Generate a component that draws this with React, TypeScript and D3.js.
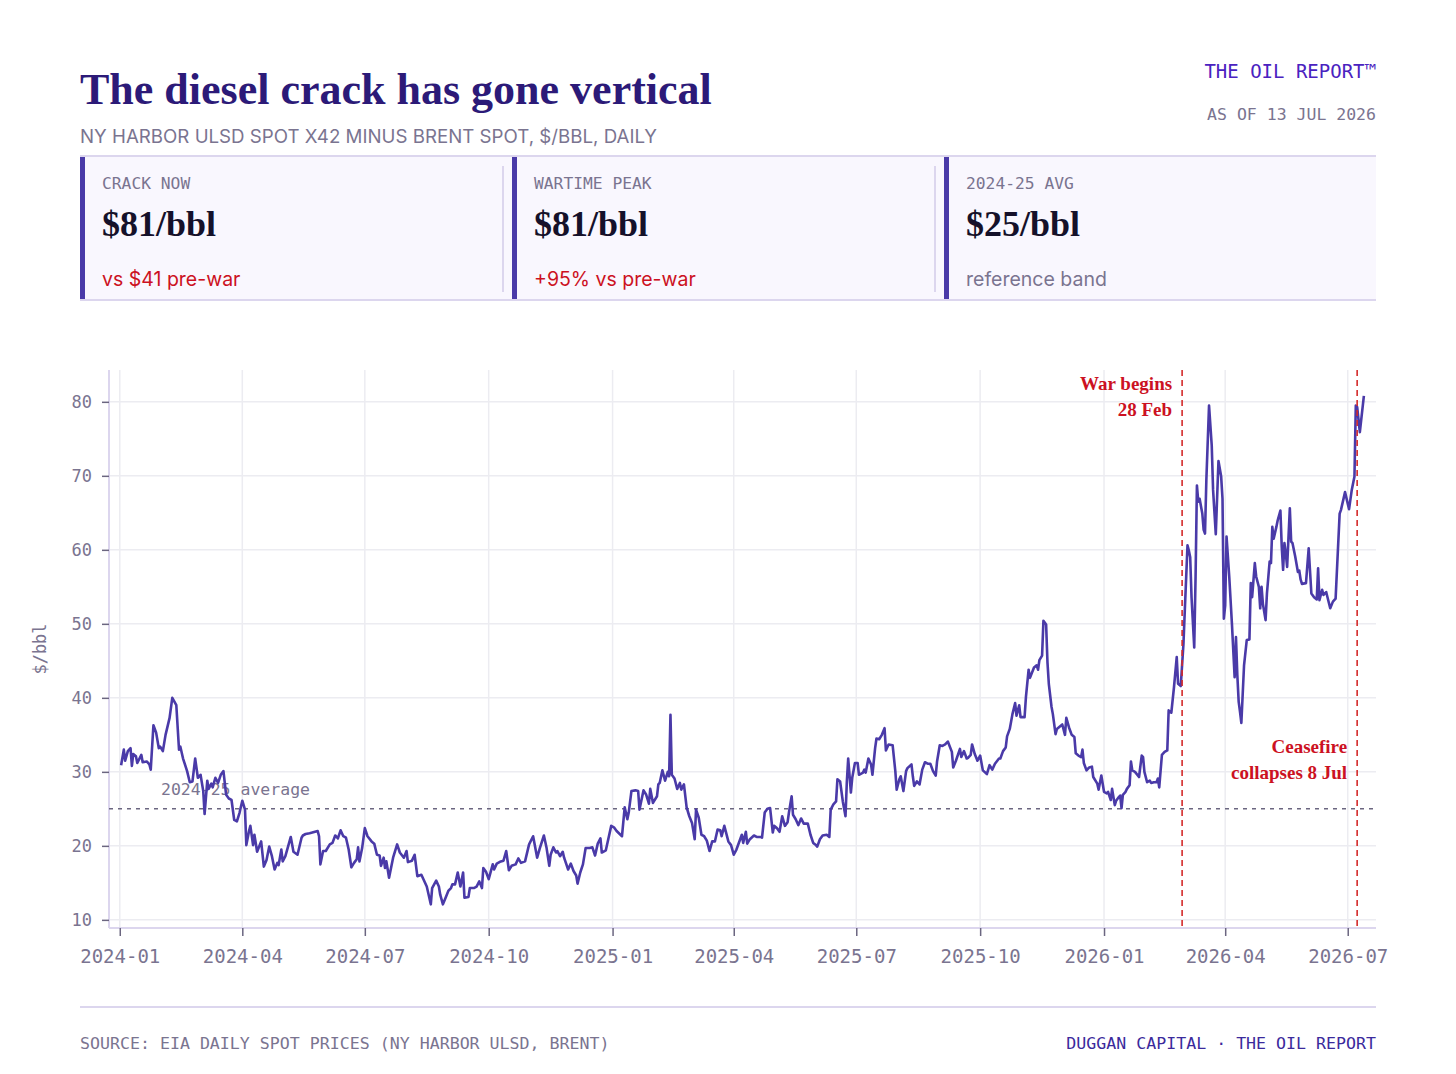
import React, { useEffect, useRef } from 'react';
import * as d3 from 'd3';

// NY Harbor ULSD x42 minus Brent, $/bbl
const crackSeries: [string, number][] = [
  ['2024-01-02', 30.9], ['2024-01-04', 33.0], ['2024-01-05', 31.5], ['2024-01-07', 32.8], ['2024-01-09', 33.2],
  ['2024-01-10', 30.8], ['2024-01-11', 32.4], ['2024-01-13', 32.1], ['2024-01-14', 31.2], ['2024-01-17', 32.3],
  ['2024-01-18', 31.3], ['2024-01-21', 31.4], ['2024-01-23', 31.0], ['2024-01-24', 30.3], ['2024-01-26', 36.3],
  ['2024-01-28', 35.3], ['2024-01-30', 33.2], ['2024-01-31', 33.4],
  ['2024-02-02', 32.8], ['2024-02-04', 35.0], ['2024-02-07', 37.3], ['2024-02-09', 40.0], ['2024-02-12', 39.0],
  ['2024-02-14', 33.0], ['2024-02-15', 33.4], ['2024-02-17', 31.8], ['2024-02-20', 30.1], ['2024-02-22', 28.6],
  ['2024-02-24', 28.7], ['2024-02-26', 31.8], ['2024-02-28', 29.2],
  ['2024-03-01', 29.6], ['2024-03-03', 27.4], ['2024-03-04', 24.3], ['2024-03-06', 28.8], ['2024-03-07', 27.7],
  ['2024-03-09', 28.4], ['2024-03-10', 27.9], ['2024-03-12', 29.2], ['2024-03-14', 28.5], ['2024-03-16', 29.6],
  ['2024-03-18', 30.1], ['2024-03-20', 26.9], ['2024-03-22', 26.4], ['2024-03-24', 26.2], ['2024-03-26', 23.5],
  ['2024-03-28', 23.3], ['2024-03-30', 24.5],
  ['2024-04-01', 26.1], ['2024-04-03', 24.9], ['2024-04-04', 20.1], ['2024-04-06', 22.0], ['2024-04-07', 22.7],
  ['2024-04-09', 20.1], ['2024-04-10', 21.5], ['2024-04-12', 19.2], ['2024-04-15', 20.6], ['2024-04-17', 17.2],
  ['2024-04-19', 18.1], ['2024-04-21', 19.9], ['2024-04-23', 18.6], ['2024-04-25', 16.8], ['2024-04-27', 17.7],
  ['2024-04-28', 17.4], ['2024-04-30', 19.5],
  ['2024-05-01', 17.9], ['2024-05-03', 18.6], ['2024-05-07', 21.2], ['2024-05-09', 19.2], ['2024-05-12', 18.8],
  ['2024-05-15', 21.1], ['2024-05-16', 21.4], ['2024-05-18', 21.6], ['2024-05-21', 21.7], ['2024-05-27', 22.0],
  ['2024-05-28', 21.3], ['2024-05-29', 17.5], ['2024-05-31', 19.3],
  ['2024-06-02', 19.3], ['2024-06-05', 20.2], ['2024-06-07', 20.4], ['2024-06-09', 21.4], ['2024-06-11', 21.0],
  ['2024-06-13', 22.1], ['2024-06-15', 21.3], ['2024-06-17', 21.1], ['2024-06-19', 19.5], ['2024-06-21', 17.1],
  ['2024-06-23', 17.7], ['2024-06-25', 18.2], ['2024-06-26', 19.8], ['2024-06-27', 17.9], ['2024-06-29', 19.7],
  ['2024-07-01', 22.4], ['2024-07-03', 21.3], ['2024-07-06', 20.6], ['2024-07-08', 20.3], ['2024-07-10', 18.8],
  ['2024-07-12', 18.7], ['2024-07-13', 17.3], ['2024-07-15', 18.4], ['2024-07-16', 17.0], ['2024-07-17', 17.9],
  ['2024-07-19', 15.7], ['2024-07-22', 18.4], ['2024-07-25', 20.2], ['2024-07-27', 19.1], ['2024-07-30', 18.4],
  ['2024-08-01', 19.3], ['2024-08-02', 17.8], ['2024-08-05', 18.0], ['2024-08-07', 18.8], ['2024-08-09', 15.9],
  ['2024-08-12', 16.1], ['2024-08-16', 14.5], ['2024-08-19', 12.1], ['2024-08-20', 14.3], ['2024-08-23', 15.3],
  ['2024-08-25', 14.5], ['2024-08-26', 13.4], ['2024-08-28', 12.1], ['2024-08-30', 13.0],
  ['2024-09-01', 13.9], ['2024-09-03', 14.3], ['2024-09-04', 14.8], ['2024-09-06', 14.8], ['2024-09-08', 16.4],
  ['2024-09-10', 14.5], ['2024-09-12', 16.4], ['2024-09-13', 13.0], ['2024-09-16', 13.1], ['2024-09-17', 14.3],
  ['2024-09-20', 14.3], ['2024-09-22', 14.5], ['2024-09-24', 15.2], ['2024-09-26', 14.3], ['2024-09-27', 17.0],
  ['2024-09-29', 16.5],
  ['2024-10-01', 15.5], ['2024-10-04', 17.5], ['2024-10-05', 16.8], ['2024-10-07', 17.6], ['2024-10-10', 17.9],
  ['2024-10-12', 18.0], ['2024-10-14', 19.3], ['2024-10-16', 16.7], ['2024-10-18', 17.3], ['2024-10-21', 17.5],
  ['2024-10-23', 18.3], ['2024-10-25', 17.7], ['2024-10-28', 17.9], ['2024-10-31', 20.2],
  ['2024-11-03', 21.3], ['2024-11-06', 18.4], ['2024-11-08', 19.7], ['2024-11-11', 21.4], ['2024-11-13', 19.7],
  ['2024-11-15', 17.3], ['2024-11-16', 18.8], ['2024-11-18', 19.8], ['2024-11-20', 19.1], ['2024-11-21', 19.3],
  ['2024-11-23', 18.6], ['2024-11-25', 19.2], ['2024-11-26', 18.4], ['2024-11-29', 16.8],
  ['2024-12-01', 17.6], ['2024-12-03', 16.6], ['2024-12-05', 16.0], ['2024-12-06', 14.9], ['2024-12-08', 16.4],
  ['2024-12-10', 17.5], ['2024-12-12', 19.7], ['2024-12-15', 19.7], ['2024-12-17', 19.8], ['2024-12-19', 18.7],
  ['2024-12-21', 20.3], ['2024-12-23', 21.0], ['2024-12-24', 19.1], ['2024-12-27', 19.4], ['2024-12-31', 22.7],
  ['2025-01-02', 22.5], ['2025-01-04', 22.0], ['2025-01-08', 21.3], ['2025-01-10', 25.2], ['2025-01-12', 23.6],
  ['2025-01-13', 24.5], ['2025-01-15', 27.4], ['2025-01-18', 27.5], ['2025-01-20', 27.4], ['2025-01-21', 24.9],
  ['2025-01-24', 27.5], ['2025-01-26', 26.9], ['2025-01-28', 25.7], ['2025-01-29', 27.7], ['2025-01-31', 25.8],
  ['2025-02-03', 26.7], ['2025-02-04', 28.3], ['2025-02-05', 28.5], ['2025-02-07', 30.2], ['2025-02-09', 28.8],
  ['2025-02-11', 30.0], ['2025-02-12', 29.4], ['2025-02-13', 37.7], ['2025-02-14', 29.6], ['2025-02-16', 29.1],
  ['2025-02-18', 27.7], ['2025-02-20', 28.5], ['2025-02-21', 27.6], ['2025-02-23', 28.3], ['2025-02-25', 25.2],
  ['2025-02-27', 24.0],
  ['2025-03-01', 23.1], ['2025-03-03', 20.9], ['2025-03-04', 24.9], ['2025-03-06', 23.8], ['2025-03-08', 21.5],
  ['2025-03-10', 21.3], ['2025-03-12', 20.7], ['2025-03-14', 19.3], ['2025-03-16', 20.6], ['2025-03-18', 20.6],
  ['2025-03-20', 22.2], ['2025-03-22', 22.1], ['2025-03-23', 21.3], ['2025-03-25', 22.7], ['2025-03-28', 20.6],
  ['2025-03-30', 20.1],
  ['2025-04-01', 18.8], ['2025-04-03', 19.5], ['2025-04-07', 21.5], ['2025-04-08', 20.4], ['2025-04-10', 21.9],
  ['2025-04-11', 20.3], ['2025-04-13', 20.9], ['2025-04-16', 21.4], ['2025-04-18', 21.2], ['2025-04-21', 21.2],
  ['2025-04-22', 21.1], ['2025-04-24', 24.5], ['2025-04-26', 25.0], ['2025-04-28', 25.1], ['2025-04-30', 21.8],
  ['2025-05-01', 22.7], ['2025-05-03', 22.4], ['2025-05-05', 21.9], ['2025-05-07', 24.0], ['2025-05-09', 22.7],
  ['2025-05-11', 23.2], ['2025-05-12', 24.5], ['2025-05-14', 26.7], ['2025-05-15', 24.2], ['2025-05-17', 23.6],
  ['2025-05-19', 22.8], ['2025-05-21', 23.7], ['2025-05-23', 23.0], ['2025-05-26', 23.0], ['2025-05-28', 21.5],
  ['2025-05-30', 20.4],
  ['2025-06-01', 20.1], ['2025-06-02', 19.9], ['2025-06-04', 20.9], ['2025-06-06', 21.4], ['2025-06-09', 21.5],
  ['2025-06-11', 21.2], ['2025-06-12', 24.9], ['2025-06-14', 25.6], ['2025-06-16', 26.0], ['2025-06-17', 29.0],
  ['2025-06-19', 28.7], ['2025-06-21', 26.0], ['2025-06-23', 24.0], ['2025-06-24', 28.7], ['2025-06-25', 31.8],
  ['2025-06-27', 27.2], ['2025-06-28', 29.2], ['2025-06-30', 31.2],
  ['2025-07-02', 31.2], ['2025-07-03', 29.6], ['2025-07-06', 29.9], ['2025-07-07', 30.3], ['2025-07-08', 29.9],
  ['2025-07-10', 31.8], ['2025-07-12', 31.0], ['2025-07-13', 29.6], ['2025-07-15', 33.2], ['2025-07-16', 34.5],
  ['2025-07-18', 34.4], ['2025-07-20', 35.0], ['2025-07-22', 35.9], ['2025-07-23', 32.9], ['2025-07-25', 33.7],
  ['2025-07-28', 33.6], ['2025-07-30', 30.1], ['2025-07-31', 27.6],
  ['2025-08-02', 29.0], ['2025-08-03', 29.4], ['2025-08-05', 27.4], ['2025-08-07', 30.1], ['2025-08-08', 30.5],
  ['2025-08-11', 31.0], ['2025-08-12', 29.4], ['2025-08-13', 28.1], ['2025-08-15', 28.7], ['2025-08-17', 28.3],
  ['2025-08-19', 30.3], ['2025-08-21', 31.3], ['2025-08-23', 31.1], ['2025-08-25', 31.1], ['2025-08-27', 30.1],
  ['2025-08-29', 29.5], ['2025-08-30', 31.4],
  ['2025-09-01', 33.6], ['2025-09-03', 33.5], ['2025-09-05', 33.7], ['2025-09-07', 34.1], ['2025-09-10', 32.7],
  ['2025-09-11', 30.6], ['2025-09-13', 31.5], ['2025-09-16', 33.1], ['2025-09-17', 32.0], ['2025-09-19', 32.8],
  ['2025-09-21', 31.8], ['2025-09-22', 31.9], ['2025-09-24', 32.3], ['2025-09-25', 33.7], ['2025-09-27', 32.4],
  ['2025-09-29', 31.5],
  ['2025-10-01', 32.2], ['2025-10-03', 30.2], ['2025-10-06', 29.7], ['2025-10-08', 30.9], ['2025-10-10', 30.3],
  ['2025-10-12', 31.1], ['2025-10-15', 31.8], ['2025-10-16', 31.8], ['2025-10-18', 32.8], ['2025-10-20', 33.3],
  ['2025-10-21', 34.8], ['2025-10-23', 35.8], ['2025-10-25', 37.8], ['2025-10-27', 39.3], ['2025-10-28', 37.6],
  ['2025-10-30', 39.0], ['2025-10-31', 37.4],
  ['2025-11-03', 37.4], ['2025-11-04', 40.1], ['2025-11-06', 43.8], ['2025-11-07', 42.7], ['2025-11-10', 44.1],
  ['2025-11-12', 44.4], ['2025-11-13', 43.8], ['2025-11-14', 45.1], ['2025-11-16', 45.7], ['2025-11-17', 50.4],
  ['2025-11-19', 49.9], ['2025-11-20', 44.8], ['2025-11-21', 41.9], ['2025-11-23', 38.8], ['2025-11-24', 37.8],
  ['2025-11-26', 35.1], ['2025-11-27', 35.8], ['2025-11-29', 36.1],
  ['2025-12-01', 36.4], ['2025-12-03', 35.0], ['2025-12-04', 37.3], ['2025-12-06', 36.0], ['2025-12-08', 35.0],
  ['2025-12-10', 34.7], ['2025-12-11', 32.5], ['2025-12-13', 32.2], ['2025-12-15', 32.0], ['2025-12-16', 33.0],
  ['2025-12-17', 31.2], ['2025-12-19', 30.2], ['2025-12-21', 30.6], ['2025-12-23', 30.7], ['2025-12-24', 29.3],
  ['2025-12-27', 28.4], ['2025-12-28', 27.6], ['2025-12-30', 29.5],
  ['2026-01-01', 27.3], ['2026-01-03', 27.1], ['2026-01-04', 27.3], ['2026-01-06', 26.2], ['2026-01-07', 27.7],
  ['2026-01-09', 25.5], ['2026-01-10', 26.1], ['2026-01-12', 26.6], ['2026-01-13', 26.8], ['2026-01-14', 25.1],
  ['2026-01-15', 26.9], ['2026-01-17', 27.3], ['2026-01-18', 27.7], ['2026-01-20', 28.2], ['2026-01-21', 31.4],
  ['2026-01-22', 30.2], ['2026-01-24', 30.0], ['2026-01-27', 29.3], ['2026-01-29', 32.2], ['2026-01-30', 32.0],
  ['2026-01-31', 30.0],
  ['2026-02-02', 28.6], ['2026-02-04', 28.8], ['2026-02-05', 28.5], ['2026-02-07', 28.6], ['2026-02-09', 28.6],
  ['2026-02-10', 29.1], ['2026-02-11', 27.9], ['2026-02-13', 32.3], ['2026-02-15', 32.7], ['2026-02-17', 32.9],
  ['2026-02-18', 38.3], ['2026-02-20', 38.0], ['2026-02-22', 41.5], ['2026-02-24', 45.5], ['2026-02-25', 41.9],
  ['2026-02-27', 41.6],
  ['2026-03-01', 47.3], ['2026-03-02', 51.8], ['2026-03-04', 60.6], ['2026-03-05', 59.9], ['2026-03-06', 59.0],
  ['2026-03-07', 53.6], ['2026-03-09', 46.8], ['2026-03-10', 56.4], ['2026-03-11', 68.7], ['2026-03-12', 66.5],
  ['2026-03-13', 66.9], ['2026-03-15', 64.9], ['2026-03-16', 62.7], ['2026-03-17', 62.2], ['2026-03-18', 69.4],
  ['2026-03-20', 79.5], ['2026-03-22', 74.1], ['2026-03-23', 68.1], ['2026-03-25', 62.1], ['2026-03-27', 72.0],
  ['2026-03-29', 69.9], ['2026-03-30', 66.9], ['2026-03-31', 50.7],
  ['2026-04-01', 52.5], ['2026-04-02', 61.8], ['2026-04-04', 56.4], ['2026-04-06', 50.0], ['2026-04-08', 42.8],
  ['2026-04-09', 48.2], ['2026-04-10', 43.1], ['2026-04-11', 39.5], ['2026-04-12', 38.1], ['2026-04-13', 36.6],
  ['2026-04-15', 44.4], ['2026-04-17', 47.8], ['2026-04-19', 47.9], ['2026-04-20', 55.5], ['2026-04-21', 53.6],
  ['2026-04-23', 58.2], ['2026-04-24', 56.4], ['2026-04-26', 55.0], ['2026-04-27', 52.1], ['2026-04-28', 55.0],
  ['2026-04-29', 52.7],
  ['2026-05-01', 50.5], ['2026-05-02', 54.1], ['2026-05-04', 58.4], ['2026-05-05', 58.2], ['2026-05-06', 63.1],
  ['2026-05-07', 61.5], ['2026-05-09', 63.1], ['2026-05-10', 64.0], ['2026-05-12', 65.3], ['2026-05-13', 60.4],
  ['2026-05-14', 57.3], ['2026-05-15', 60.9], ['2026-05-16', 59.5], ['2026-05-17', 57.7], ['2026-05-19', 65.6],
  ['2026-05-20', 61.1], ['2026-05-21', 60.9], ['2026-05-23', 59.1], ['2026-05-25', 57.0], ['2026-05-26', 57.2],
  ['2026-05-27', 56.0], ['2026-05-28', 55.4], ['2026-05-31', 55.5],
  ['2026-06-02', 60.2], ['2026-06-04', 54.1], ['2026-06-06', 53.6], ['2026-06-08', 53.3], ['2026-06-09', 57.5],
  ['2026-06-10', 53.2], ['2026-06-12', 54.6], ['2026-06-13', 53.9], ['2026-06-15', 54.3], ['2026-06-18', 52.1],
  ['2026-06-20', 53.0], ['2026-06-22', 53.4], ['2026-06-25', 64.9], ['2026-06-26', 65.4], ['2026-06-29', 67.8],
  ['2026-07-02', 65.5], ['2026-07-04', 68.1], ['2026-07-06', 69.9], ['2026-07-07', 79.5], ['2026-07-08', 79.3],
  ['2026-07-10', 75.9], ['2026-07-13', 80.8],
];

const referenceAvg = 25;
const yTicks = [10, 20, 30, 40, 50, 60, 70, 80];
const xTicks = [
  '2024-01-01', '2024-04-01', '2024-07-01', '2024-10-01', '2025-01-01', '2025-04-01',
  '2025-07-01', '2025-10-01', '2026-01-01', '2026-04-01', '2026-07-01',
];
const xDomain = ['2023-12-24', '2026-07-22'];
const yDomain = [8.9, 84.3];

const kpiLabels = ['CRACK NOW', 'WARTIME PEAK', '2024-25 AVG'];
const kpiValues = ['$81/bbl', '$81/bbl', '$25/bbl'];
const kpiNotes = ['vs $41 pre-war', '+95% vs pre-war', 'reference band'];
const kpiNoteIsAlert = [true, true, false];

const eventDates = ['2026-02-28', '2026-07-08'];
const eventLabels = [['War begins', '28 Feb'], ['Ceasefire', 'collapses 8 Jul']];

const MONO = '"DejaVu Sans Mono", monospace';
const SERIF = '"Liberation Serif", "DejaVu Serif", serif';
const SANS = 'Inter, "Noto Sans", sans-serif';

const INK = '#2c1a78';
const LINE = '#4a3aa8';
const MUTED = '#7a7490';
const RED = '#cc1122';
const LAVENDER = '#dcd6ee';
const GRID = '#ececf1';

const App: React.FC = () => {
  const svgRef = useRef<SVGSVGElement | null>(null);

  useEffect(() => {
    if (!svgRef.current) return;
    const width = 1456;
    const height = 1074;
    const svg = d3.select(svgRef.current);
    svg.selectAll('*').remove();
    svg.attr('width', width).attr('height', height);

    const parse = d3.utcParse('%Y-%m-%d');
    const data = crackSeries.map(([d, v]) => ({ date: parse(d) as Date, value: v }));

    const left = 109;
    const right = 1376;
    const top = 370;
    const bottom = 928;

    const x = d3.scaleUtc().domain(xDomain.map((d) => parse(d) as Date)).range([left, right]);
    const y = d3.scaleLinear().domain(yDomain).range([bottom, top]);

    // header
    svg.append('text').attr('x', 80).attr('y', 104)
      .style('font-family', SERIF).style('font-weight', 700).style('font-size', '44px')
      .style('fill', INK).text('The diesel crack has gone vertical');
    svg.append('text').attr('x', 80).attr('y', 143)
      .style('font-family', SANS).style('font-size', '18.7px').style('fill', MUTED)
      .text('NY HARBOR ULSD SPOT X42 MINUS BRENT SPOT, $/BBL, DAILY');
    svg.append('text').attr('x', 1376).attr('y', 78).attr('text-anchor', 'end')
      .style('font-family', MONO).style('font-size', '19px').style('fill', '#4a22c0')
      .text('THE OIL REPORT™');
    svg.append('text').attr('x', 1376).attr('y', 120).attr('text-anchor', 'end')
      .style('font-family', MONO).style('font-size', '16.5px').style('fill', MUTED)
      .text('AS OF 13 JUL 2026');

    // KPI band
    const band = svg.append('g');
    band.append('rect').attr('x', 80).attr('y', 156).attr('width', 1296).attr('height', 144).attr('fill', '#f9f7fe');
    band.append('line').attr('x1', 80).attr('x2', 1376).attr('y1', 156).attr('y2', 156).attr('stroke', LAVENDER).attr('stroke-width', 2);
    band.append('line').attr('x1', 80).attr('x2', 1376).attr('y1', 300).attr('y2', 300).attr('stroke', LAVENDER).attr('stroke-width', 2);
    kpiLabels.forEach((label, i) => {
      const cx = 80 + i * 432;
      band.append('rect').attr('x', cx).attr('y', 157).attr('width', 5).attr('height', 142).attr('fill', LINE);
      if (i < kpiLabels.length - 1) {
        band.append('line').attr('x1', cx + 423).attr('x2', cx + 423).attr('y1', 166).attr('y2', 292)
          .attr('stroke', LAVENDER).attr('stroke-width', 2);
      }
      band.append('text').attr('x', cx + 22).attr('y', 189)
        .style('font-family', MONO).style('font-size', '16.3px').style('fill', MUTED).text(label);
      band.append('text').attr('x', cx + 22).attr('y', 236)
        .style('font-family', SERIF).style('font-weight', 700).style('font-size', '36px').style('fill', '#15112a')
        .text(kpiValues[i]);
      band.append('text').attr('x', cx + 22).attr('y', 286)
        .style('font-family', SANS).style('font-size', '19.5px')
        .style('fill', kpiNoteIsAlert[i] ? RED : MUTED).text(kpiNotes[i]);
    });

    // grid
    const grid = svg.append('g');
    grid.selectAll('.vgrid').data(xTicks).enter().append('line')
      .attr('x1', (d) => x(parse(d) as Date)).attr('x2', (d) => x(parse(d) as Date))
      .attr('y1', top).attr('y2', bottom).attr('stroke', GRID).attr('stroke-width', 1.5);
    grid.selectAll('.hgrid').data(yTicks).enter().append('line')
      .attr('x1', left).attr('x2', right).attr('y1', (d) => y(d)).attr('y2', (d) => y(d))
      .attr('stroke', GRID).attr('stroke-width', 1.5);

    // axes
    const yAxis = svg.append('g').attr('transform', `translate(${left},0)`)
      .call(d3.axisLeft(y).tickValues(yTicks).tickSize(7).tickPadding(10).tickFormat(d3.format('d')));
    const xAxis = svg.append('g').attr('transform', `translate(0,${bottom})`)
      .call(d3.axisBottom(x).tickValues(xTicks.map((d) => parse(d) as Date)).tickSize(8).tickPadding(14)
        .tickFormat((d) => d3.utcFormat('%Y-%m')(d as Date)));
    [yAxis, xAxis].forEach((ax) => {
      ax.select('.domain').attr('stroke', LAVENDER).attr('stroke-width', 2);
      ax.selectAll('.tick line').attr('stroke', '#6b6680').attr('stroke-width', 1.5);
      ax.selectAll('.tick text').style('font-family', MONO).style('fill', MUTED);
    });
    yAxis.selectAll('.tick text').style('font-size', '17px');
    xAxis.selectAll('.tick text').style('font-size', '19px');
    yAxis.select('.domain').attr('d', `M0,${top}V${bottom}`);
    xAxis.select('.domain').attr('d', `M${left},0H${right}`);

    svg.append('text').attr('transform', `translate(46,${(top + bottom) / 2}) rotate(-90)`)
      .attr('text-anchor', 'middle')
      .style('font-family', MONO).style('font-size', '17px').style('fill', MUTED).text('$/bbl');

    // reference average
    svg.append('text').attr('x', 161).attr('y', y(referenceAvg) - 14)
      .style('font-family', MONO).style('font-size', '16.5px').style('fill', MUTED).text('2024-25 average');
    svg.append('line').attr('x1', left).attr('x2', right)
      .attr('y1', y(referenceAvg)).attr('y2', y(referenceAvg))
      .attr('stroke', '#6b6680').attr('stroke-width', 1.5).attr('stroke-dasharray', '4,5');

    // series
    const line = d3.line<{ date: Date; value: number }>()
      .x((d) => x(d.date)).y((d) => y(d.value));
    svg.append('path').datum(data).attr('d', line).attr('fill', 'none')
      .attr('stroke', LINE).attr('stroke-width', 2.6).attr('stroke-linejoin', 'round');

    // events
    const labelTops = [390, 753];
    eventDates.forEach((d, i) => {
      const ex = x(parse(d) as Date);
      svg.append('line').attr('x1', ex).attr('x2', ex).attr('y1', top).attr('y2', bottom)
        .attr('stroke', '#d42a2a').attr('stroke-width', 1.6).attr('stroke-dasharray', '6,4');
      eventLabels[i].forEach((t, j) => {
        svg.append('text').attr('x', ex - 10).attr('y', labelTops[i] + j * 26).attr('text-anchor', 'end')
          .style('font-family', SERIF).style('font-weight', 700).style('font-size', '19px').style('fill', RED)
          .text(t);
      });
    });

    // footer
    svg.append('line').attr('x1', 80).attr('x2', 1376).attr('y1', 1007).attr('y2', 1007)
      .attr('stroke', LAVENDER).attr('stroke-width', 2);
    svg.append('text').attr('x', 80).attr('y', 1049)
      .style('font-family', MONO).style('font-size', '16.6px').style('fill', MUTED)
      .text('SOURCE: EIA DAILY SPOT PRICES (NY HARBOR ULSD, BRENT)');
    svg.append('text').attr('x', 1376).attr('y', 1049).attr('text-anchor', 'end')
      .style('font-family', MONO).style('font-size', '16.6px').style('fill', '#3b2a9c')
      .text('DUGGAN CAPITAL · THE OIL REPORT');
  }, []);

  return (
    <div style={{ position: 'absolute', left: 0, top: 0, background: '#fff' }}>
      <svg ref={svgRef} style={{ display: 'block' }}></svg>
    </div>
  );
};

export default App;
